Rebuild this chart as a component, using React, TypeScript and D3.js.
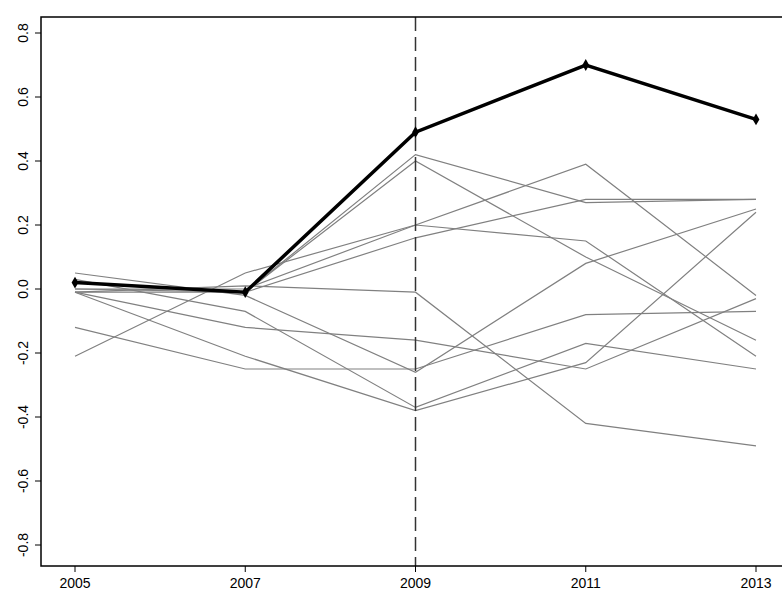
import * as d3 from 'd3';

const years = [2005, 2007, 2009, 2011, 2013];
const yTicks = [-0.8, -0.6, -0.4, -0.2, 0.0, 0.2, 0.4, 0.6, 0.8];

const grayA = [0.0, -0.01, 0.42, 0.27, 0.28];
const grayB = [0.02, -0.01, 0.4, 0.1, -0.16];
const grayC = [-0.21, 0.05, 0.2, 0.39, -0.02];
const grayD = [-0.01, -0.01, 0.16, 0.28, 0.28];
const grayE = [0.0, 0.0, 0.2, 0.15, -0.21];
const grayF = [-0.01, 0.01, -0.01, -0.42, -0.49];
const grayG = [-0.01, -0.12, -0.16, -0.25, -0.03];
const grayH = [0.05, -0.02, -0.26, 0.08, 0.25];
const grayI = [-0.12, -0.25, -0.25, -0.08, -0.07];
const grayJ = [0.03, -0.07, -0.37, -0.17, -0.25];
const grayK = [-0.01, -0.21, -0.38, -0.23, 0.24];
const grayLines = [grayA, grayB, grayC, grayD, grayE, grayF, grayG, grayH, grayI, grayJ, grayK];
const blackLine = [0.02, -0.01, 0.49, 0.7, 0.53];

export default function App() {
  const width = 782;
  const height = 601;
  const left = 41;
  const top = 17;
  const bottom = 566;

  const x = d3.scaleLinear().domain([2005, 2013]).range([75, 756]);
  const y = d3.scaleLinear().domain([-0.8, 0.8]).range([545, 33]);
  const line = d3
    .line<number>()
    .x((_, i) => x(years[i]))
    .y(d => y(d));

  return (
    <svg width={width} height={height} style={{ position: 'absolute', left: 0, top: 0 }}
      fontFamily="Liberation Sans, Arial, sans-serif" fontSize={14}>
      <rect width={width} height={height} fill="#fff" />
      {grayLines.map((g, i) => (
        <path key={i} d={line(g) || ''} fill="none" stroke="#808080" strokeWidth={1.2} />
      ))}
      <line x1={x(2009)} x2={x(2009)} y1={top} y2={bottom} stroke="#333" strokeWidth={1.5}
        strokeDasharray="14,6" />
      <path d={line(blackLine) || ''} fill="none" stroke="#000" strokeWidth={3.5} />
      {blackLine.map((v, i) => (
        <path key={i} d={d3.symbol(d3.symbolDiamond, 40)() || ''}
          transform={`translate(${x(years[i])},${y(v)})`} fill="#000" />
      ))}
      <rect x={left} y={top} width={width - left + 5} height={bottom - top} fill="none" stroke="#000" strokeWidth={1.5} />
      {yTicks.map(t => (
        <g key={t}>
          <line x1={left - 6} x2={left} y1={y(t)} y2={y(t)} stroke="#000" />
          <text transform={`translate(${left - 13},${y(t)}) rotate(-90)`} textAnchor="middle">
            {t.toFixed(1)}
          </text>
        </g>
      ))}
      {years.map(t => (
        <g key={t}>
          <line x1={x(t)} x2={x(t)} y1={bottom} y2={bottom + 6} stroke="#000" />
          <text x={x(t)} y={bottom + 22} textAnchor="middle">{t}</text>
        </g>
      ))}
    </svg>
  );
}
